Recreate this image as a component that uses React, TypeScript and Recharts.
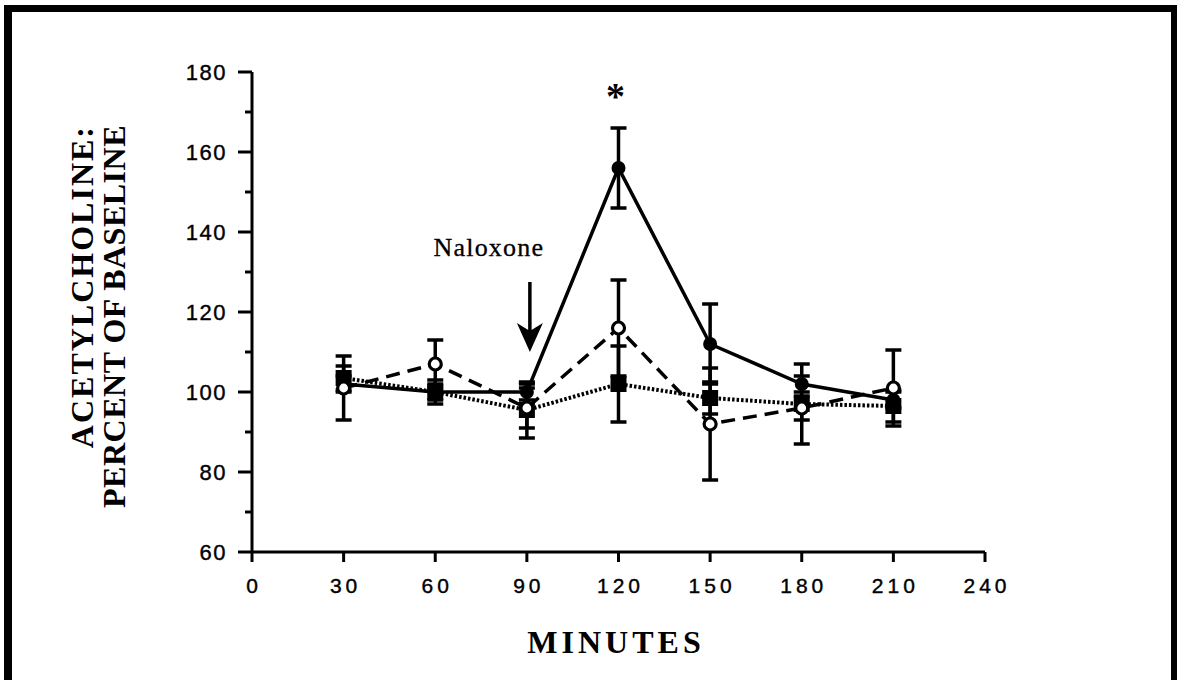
import React from 'react';
import { LineChart, Line, XAxis, YAxis, ErrorBar, ReferenceDot } from 'recharts';

// minutes after start of sampling
const minutes = [30, 60, 90, 120, 150, 180, 210];

// filled circles, solid line
const solid = [102, 100, 100, 156, 112, 102, 98];
const solidErr = [2, 2, 2, 10, 10, 2, 2];

// open circles, dashed line
const open = [101, 107, 96, 116, 92, 96, 101];
const openErr = [8, 6, 5, 12, 14, 3, 9.5];

// filled squares, dotted line
const square = [103.5, 100, 95.5, 102, 98.5, 97, 96.5];
const squareErr = [3, 3, 7, 9.5, 4, 10, 4];

const xTicks = [0, 30, 60, 90, 120, 150, 180, 210, 240];
const yTicks = [60, 70, 80, 90, 100, 110, 120, 130, 140, 150, 160, 170, 180];

const naloxoneAt = 90;
const starAt = 120;

const data = minutes.map((m, i) => ({
  min: m,
  solid: solid[i],
  solidErr: solidErr[i],
  open: open[i],
  openErr: openErr[i],
  square: square[i],
  squareErr: squareErr[i],
}));

const serif = '"Liberation Serif", "Times New Roman", serif';
const sans = '"Liberation Sans", Arial, sans-serif';

const YTick = (props: any) => {
  const { x, y, payload } = props;
  const v = payload.value;
  const axisX = x + 26;
  const major = v % 20 === 0;
  return (
    <g>
      <line x1={axisX - (major ? 14 : 7)} x2={axisX} y1={y} y2={y} stroke="#000" strokeWidth={3} />
      {major && (
        <text x={x + 1} y={y} dy="0.36em" textAnchor="end" fontFamily={sans} fontSize={22} letterSpacing={1.5} fill="#000" stroke="#000" strokeWidth={0.4}>
          {v}
        </text>
      )}
    </g>
  );
};

const XTick = (props: any) => {
  const { x, y, payload } = props;
  return (
    <text x={x + 2} y={y} dy="0.71em" textAnchor="middle" fontFamily={sans} fontSize={21} letterSpacing={4} fill="#000" stroke="#000" strokeWidth={0.4}>
      {payload.value}
    </text>
  );
};

const SolidDot = (p: any) => <circle key={p.index} cx={p.cx} cy={p.cy} r={7} fill="#000" stroke="none" />;
const OpenDot = (p: any) => (
  <circle key={p.index} cx={p.cx} cy={p.cy} r={6} fill="#fff" stroke="#000" strokeWidth={3.2} />
);
const SquareDot = (p: any) => <rect key={p.index} x={p.cx - 8} y={p.cy - 8} width={16} height={16} fill="#000" />;

const Arrow = (p: any) => {
  const { cx, cy } = p;
  const x = cx + 3;
  return (
    <g>
      <text x={x - 41} y={cy - 96} textAnchor="middle" fontFamily={serif} fontSize={26} letterSpacing={1.2} fill="#000" stroke="#000" strokeWidth={0.3}>
        Naloxone
      </text>
      <line x1={x} x2={x} y1={cy - 70} y2={cy - 20} stroke="#000" strokeWidth={3.5} />
      <path d={`M ${x - 13} ${cy - 29} L ${x} ${cy - 21} L ${x + 13} ${cy - 29} L ${x} ${cy} Z`} fill="#000" />
    </g>
  );
};

const Star = (p: any) => (
  <text x={p.cx - 3} y={p.cy} dy="0.55em" textAnchor="middle" fontFamily={serif} fontWeight="bold" fontSize={38} fill="#000">
    *
  </text>
);

export default function App() {
  return (
    <div style={{ position: 'absolute', left: 0, top: 0, width: 1177, height: 680, background: '#fff', overflow: 'hidden' }}>
      <div
        style={{
          position: 'absolute',
          left: 4,
          top: 5,
          width: 1159,
          height: 670,
          border: '8px solid #000',
          borderTopWidth: 7,
        }}
      />
      <LineChart
        width={1177}
        height={680}
        data={data}
        margin={{ top: 72, right: 192, bottom: 68, left: 172 }}
        style={{ position: 'absolute', left: 0, top: 0 }}
      >
        <XAxis
          dataKey="min"
          type="number"
          domain={[0, 240]}
          ticks={xTicks}
          height={60}
          tickSize={10}
          tickMargin={16}
          axisLine={{ stroke: '#000', strokeWidth: 3 }}
          tickLine={{ stroke: '#000', strokeWidth: 3 }}
          tick={<XTick />}
          interval={0}
        />
        <YAxis
          type="number"
          domain={[60, 180]}
          ticks={yTicks}
          width={80}
          tickSize={14}
          tickMargin={12}
          axisLine={{ stroke: '#000', strokeWidth: 3 }}
          tickLine={false}
          tick={<YTick />}
          interval={0}
        />
        <Line
          dataKey="square"
          stroke="#000"
          strokeWidth={4}
          strokeDasharray="2.5 2"
          dot={SquareDot}
          activeDot={false}
          isAnimationActive={false}
        >
          <ErrorBar dataKey="squareErr" direction="y" width={8} stroke="#000" strokeWidth={3.5} isAnimationActive={false} />
        </Line>
        <Line
          dataKey="solid"
          stroke="#000"
          strokeWidth={3.5}
          dot={SolidDot}
          activeDot={false}
          isAnimationActive={false}
        >
          <ErrorBar dataKey="solidErr" direction="y" width={8} stroke="#000" strokeWidth={3.5} isAnimationActive={false} />
        </Line>
        <Line
          dataKey="open"
          stroke="#000"
          strokeWidth={3.5}
          strokeDasharray="14 8"
          dot={OpenDot}
          activeDot={false}
          isAnimationActive={false}
        >
          <ErrorBar dataKey="openErr" direction="y" width={8} stroke="#000" strokeWidth={3.5} isAnimationActive={false} />
        </Line>
        <ReferenceDot x={naloxoneAt} y={110} ifOverflow="visible" shape={Arrow} />
        <ReferenceDot x={starAt} y={176} ifOverflow="visible" shape={Star} />
      </LineChart>
      <svg width={1177} height={680} style={{ position: 'absolute', left: 0, top: 0, pointerEvents: 'none' }}>
        <g fontFamily={serif} fontWeight="bold" fontSize={32} fill="#000" textAnchor="end">
          <text transform="translate(93,125) rotate(-90)" letterSpacing={2}>ACETYLCHOLINE:</text>
          <text transform="translate(125,125) rotate(-90)" letterSpacing={0.5}>PERCENT OF BASELINE</text>
        </g>
        <text x={616} y={653} textAnchor="middle" fontFamily={serif} fontWeight="bold" fontSize={32} letterSpacing={4} fill="#000">
          MINUTES
        </text>
      </svg>
    </div>
  );
}
